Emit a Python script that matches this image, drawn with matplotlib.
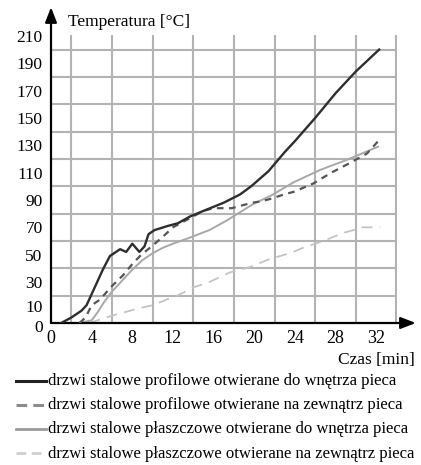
import matplotlib
matplotlib.use("Agg")
import matplotlib.pyplot as plt
import matplotlib.transforms as mtransforms
from matplotlib.lines import Line2D

plt.rcParams['font.family'] = ['Liberation Serif', 'DejaVu Serif']

# ---- data (time [min], temperature [°C]) ----
s1_t = [1.0, 2.0, 3.0, 3.5, 4.3, 5.1, 5.8, 6.8, 7.4, 8.0, 8.7, 9.2, 9.6, 10.2,
        11.5, 12.5, 13.7, 15.0, 16.0, 17.0, 18.6, 19.7, 21.4, 23.0, 24.0,
        26.0, 28.0, 30.0, 32.3]
s1_v = [0, 4, 9, 13, 26, 39, 49, 54, 52, 58, 52, 56, 65, 68,
        71, 73, 78, 82, 85, 88, 94, 100, 111, 125, 133,
        150, 168, 184, 200]

s2_t = [2.8, 3.4, 4.0, 4.8, 6.0, 7.1, 8.1, 8.9, 9.9, 11.0, 12.0, 13.0, 14.0,
        15.0, 16.0, 16.8, 17.8, 18.8, 19.8, 20.7, 21.7, 22.9, 23.9, 25.8,
        27.6, 29.4, 31.1, 32.2]
s2_v = [0, 4, 13, 17, 27, 35, 44, 50, 56, 63, 70, 74, 78,
        82, 84, 84, 84, 86, 88, 89, 91, 94, 96, 102,
        110, 117, 124, 133]

s3_t = [2.8, 4.0, 4.6, 5.2, 6.0, 7.0, 8.0, 9.0, 10.0, 11.0, 12.0, 13.5,
        15.6, 17.3, 19.9, 21.6, 23.9, 26.5, 29.0, 32.2]
s3_v = [0, 2, 8, 15, 23, 31, 39, 46, 51, 55, 58, 62,
        68, 75, 87, 93, 103, 112, 119, 129]

s4_t = [3.8, 5.0, 6.3, 7.3, 8.8, 10.0, 11.0, 12.7, 14.0, 15.6, 17.6, 19.6,
        21.6, 23.5, 24.8, 26.8, 28.8, 29.8, 30.7, 32.4]
s4_v = [0, 3, 6, 8, 11, 13, 16, 21, 26, 30, 37, 41,
        47, 51, 55, 60, 66, 68, 70, 70]

x_ticks = [0, 4, 8, 12, 16, 20, 24, 28, 32]
y_ticks = [0, 10, 30, 50, 70, 90, 110, 130, 150, 170, 190, 210]
x_grid = [0, 2, 4, 6, 8, 10, 12, 14, 16, 18, 20, 22, 24, 26, 28, 30, 32, 34]
y_grid = [0, 10, 20, 30, 40, 50, 60, 70, 80, 90, 100, 110, 120, 130, 140,
          150, 160, 170, 180, 190, 200, 210]

labels = ["drzwi stalowe profilowe otwierane do wnętrza pieca",
          "drzwi stalowe profilowe otwierane na zewnątrz pieca",
          "drzwi stalowe płaszczowe otwierane do wnętrza pieca",
          "drzwi stalowe płaszczowe otwierane na zewnątrz pieca"]

W, H = 421, 465
fig = plt.figure(figsize=(W / 100, H / 100), dpi=100)
x0, y0 = 51, 323
px_per_min = 10.16
px_per_deg = 1.367
xmax, ymax = 34.1, 211
ax = fig.add_axes([x0 / W, (H - y0) / H, xmax * px_per_min / W, ymax * px_per_deg / H])
ax.set_xlim(0, xmax)
ax.set_ylim(0, ymax)
for s in ax.spines.values():
    s.set_visible(False)

ax.set_xticks(x_ticks)
ax.set_xticklabels([str(v) for v in x_ticks])
ax.set_yticks(y_ticks)
ax.set_yticklabels([str(v) for v in y_ticks])
ax.set_xticks(x_grid, minor=True)
ax.set_yticks(y_grid, minor=True)
ax.tick_params(which='both', length=0)
ax.tick_params(axis='x', labelsize=13, pad=5)
ax.tick_params(axis='y', labelsize=12.5, pad=6)
ax.grid(which='minor', color='#b3b3b3', lw=1.5)
ax.grid(which='major', visible=False)
ax.set_axisbelow(True)

# nudge the tightly packed "0" and "10" labels apart a little
ylabs = ax.get_yticklabels()
for lab, dy in ((ylabs[0], -2.5 / 72), (ylabs[1], 2.5 / 72)):
    lab.set_transform(lab.get_transform() +
                      mtransforms.ScaledTranslation(0, dy, fig.dpi_scale_trans))

ax.plot(s4_t, s4_v, color='#c4c4c4', lw=1.3, dashes=(6, 4), zorder=3)
ax.plot(s3_t, s3_v, color='#a8a8a8', lw=1.4, zorder=3)
ax.plot(s2_t, s2_v, color='#555555', lw=1.6, dashes=(3, 2.5), zorder=4)
ax.plot(s1_t, s1_v, color='#2e2e2e', lw=1.7, zorder=5)

# axis arrows
ap = dict(arrowstyle='-|>,head_length=0.9,head_width=0.35', color='black',
          lw=1.6, shrinkA=0, shrinkB=0)
ax.annotate('', xy=(35.9, 0), xytext=(0, 0), arrowprops=ap, annotation_clip=False)
ax.annotate('', xy=(0, 231), xytext=(0, 0), arrowprops=ap, annotation_clip=False)

fig.text(68 / W, 1 - 25.5 / H, "Temperatura [°C]", fontsize=12.5, ha='left', va='baseline')
fig.text(415 / W, 1 - 364 / H, "Czas [min]", fontsize=12.5, ha='right', va='baseline')

# legend
styles = [dict(color='#222222', lw=2.2),
          dict(color='#8c8c8c', lw=2.2, dashes=(3.5, 2)),
          dict(color='#9a9a9a', lw=2.0),
          dict(color='#cfcfcf', lw=2.0, dashes=(3.5, 2))]
baselines = [385, 409.3, 433.3, 457.7]
for lab, st, b in zip(labels, styles, baselines):
    yl = 1 - (b - 4.5) / H
    fig.add_artist(Line2D([16 / W, 46 / W], [yl, yl], transform=fig.transFigure, **st))
    fig.text(48.5 / W, 1 - b / H, lab, fontsize=12, ha='left', va='baseline')

fig.savefig("out.png", dpi=100)
